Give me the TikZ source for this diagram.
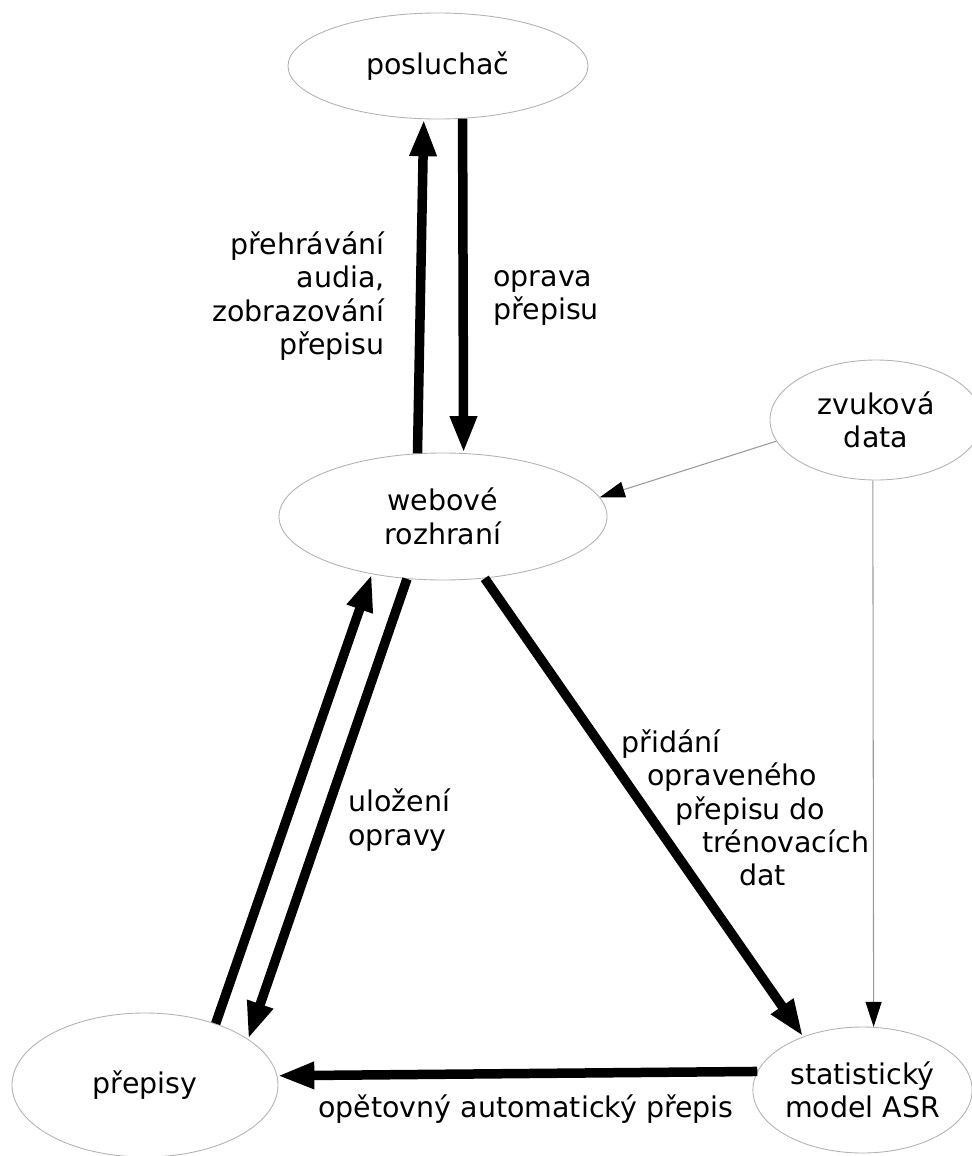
\documentclass[tikz,border=0pt]{standalone}
\usepackage{fontspec}
\setmainfont{DejaVu Sans}
\usetikzlibrary{positioning, shapes.geometric, arrows.meta}

\begin{document}
\begin{tikzpicture}[
    state/.style={ellipse, draw=black!30, line width=0.5pt, inner sep=0pt, align=center, font=\fontsize{16.2}{19}\selectfont},
    label/.style={inner sep=0pt, font=\fontsize{16.2}{19}\selectfont},
    flow/.style={line width=0.19cm, -{Triangle[length=0.74cm, width=0.5cm]}},
    feed/.style={draw=black!40, line width=0.6pt, -{Triangle[length=0.5cm, width=0.32cm, black]}}
]
    \useasboundingbox (0,0) rectangle (19.42,-23.12);

    % States
    \node[state, minimum width=6.0cm, minimum height=2.12cm] (post) at (8.76,-1.32) {posluchač};
    \node[state, minimum width=6.56cm, minimum height=2.54cm] (web) at (8.86,-10.33) {webové\\rozhraní};
    \node[state, minimum width=4.24cm, minimum height=2.4cm] (sound) at (17.52,-8.40) {zvuková\\data};
    \node[state, minimum width=5.32cm, minimum height=2.88cm] (trans) at (2.90,-21.70) {přepisy};
    \node[state, minimum width=4.26cm, minimum height=2.52cm] (asr) at (17.25,-21.80) {statistický\\model ASR};

    % Listener loop
    \draw[flow] (web.112.3) -- (post.255.2);
    \draw[flow] (post.295.3) -- (web.72.5);
    \node[label, anchor=east, align=right] (playlbl) at (7.70,-5.92) {přehrávání\\audia,\\zobrazování\\přepisu};
    \node[label, anchor=west, align=left] (fixlbl) at (9.86,-5.96) {oprava\\přepisu};

    % Transcripts loop
    \draw[flow] (trans.41.7) -- (web.219.3);
    \draw[flow] (web.240.1) -- (trans.24.7);
    \node[label, anchor=west, align=left] (savelbl) at (6.96,-16.40) {uložení\\opravy};

    % Training data
    \draw[flow] (web.304.3) -- (asr.138.4);
    \node[label, anchor=west, align=left] (addlbl) at (12.42,-16.16) {přidání\\\hspace*{0.52cm}opraveného\\\hspace*{1.08cm}přepisu do\\\hspace*{1.62cm}trénovacích\\\hspace*{2.36cm}dat};

    % Re-transcription
    \draw[flow] (asr.170.8) -- (trans.4.9);
    \node[label, anchor=base west] (redolbl) at (6.36,-22.34) {opětovný automatický přepis};

    % Audio data
    \draw[feed] (sound.192) -- (web.7.1);
    \draw[feed] (sound.267.1) -- (asr.80.5);

\end{tikzpicture}
\end{document}
